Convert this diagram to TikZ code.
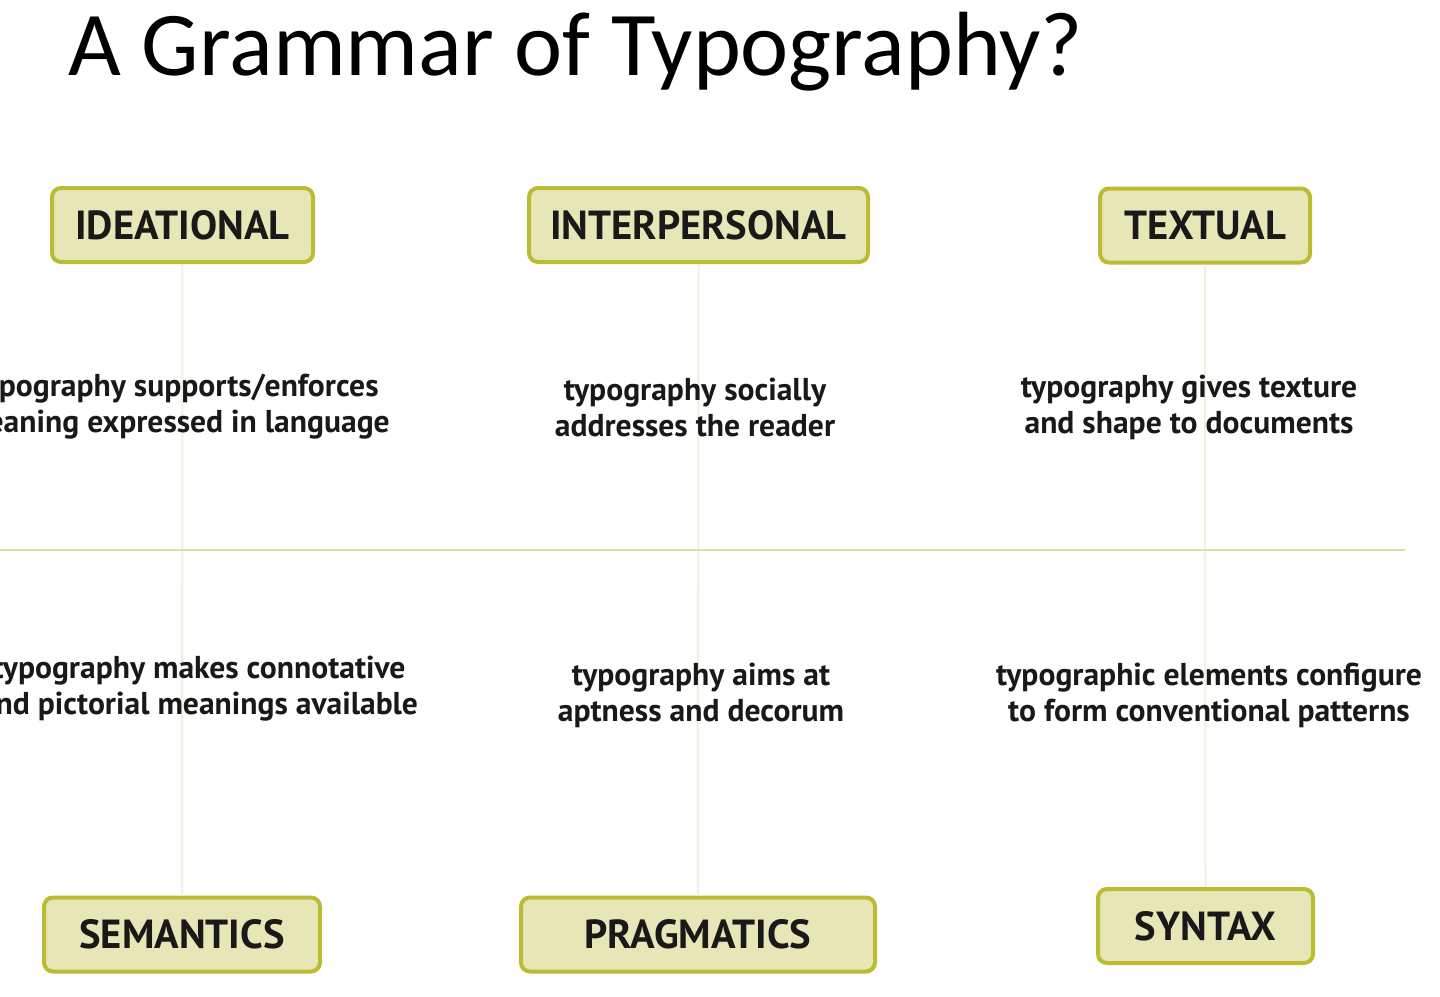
\documentclass[tikz,border=0pt]{standalone}
\usepackage{fontspec}
\setmainfont{Carlito}
\newfontfamily\boxfont{PT Sans}
\definecolor{boxfill}{RGB}{230,230,182}
\definecolor{boxdraw}{RGB}{188,188,52}
\definecolor{hline}{RGB}{222,222,170}
\definecolor{vline}{RGB}{242,242,220}
\definecolor{txt}{RGB}{25,25,25}
\tikzset{
  catbox/.style={draw=boxdraw, line width=2pt, fill=boxfill, rounded corners=4.5pt,
    minimum height=37pt, inner sep=0pt, font=\boxfont\bfseries\fontsize{20.3}{24}\selectfont, text=txt},
  desc/.style={align=center, font=\boxfont\bfseries\fontsize{15.8}{18}\selectfont, text=txt, inner sep=0pt},
  vconn/.style={draw=vline, line width=1pt},
  hconn/.style={draw=hline, line width=1.2pt}
}
\begin{document}
\begin{tikzpicture}[x=0.5pt,y=-0.5pt]
\useasboundingbox (0,0) rectangle (1440,996);
\clip (0,0) rectangle (1440,996);
\fill[white] (0,0) rectangle (1440,996);
% title
\node[anchor=base west, inner sep=0pt, font=\fontsize{45.6}{50}\selectfont, text=black] (title) at (68,75) {A Grammar of Typography?};
% coordinates for the horizontal rule
\coordinate (hl) at (0,550);
\coordinate (hr) at (1405,550);
% boxes
\node[catbox, minimum width=130.5pt] (ideat) at (182.5,225) {IDEATIONAL};
\node[catbox, minimum width=169.5pt] (inter) at (698.5,225) {INTERPERSONAL};
\node[catbox, minimum width=105pt] (textual) at (1205,225.5) {TEXTUAL};
\node[catbox, minimum width=138pt] (sem) at (182,934.5) {SEMANTICS};
\node[catbox, minimum width=177pt] (prag) at (698,934.5) {PRAGMATICS};
\node[catbox, minimum width=107.5pt] (syn) at (1205.5,926) {SYNTAX};
% connectors
\draw[vconn] (ideat.south) -- (sem.north);
\draw[vconn] (inter.south) -- (prag.north);
\draw[vconn] (textual.south) -- (syn.north);
\draw[hconn] (hl) -- (hr);
% descriptions
\node[desc] (d1) at (176,407) {typography supports/enforces\\meaning expressed in language};
\node[desc] (d2) at (695,407) {typography socially\\addresses the reader};
\node[desc] (d3) at (1189,407) {typography gives texture\\and shape to documents};
\node[desc] (d4) at (199,689) {typography makes connotative\\and pictorial meanings available};
\node[desc] (d5) at (701,695) {typography aims at\\aptness and decorum};
\node[desc] (d6) at (1209,695) {typographic elements configure\\to form conventional patterns};
\end{tikzpicture}
\end{document}
